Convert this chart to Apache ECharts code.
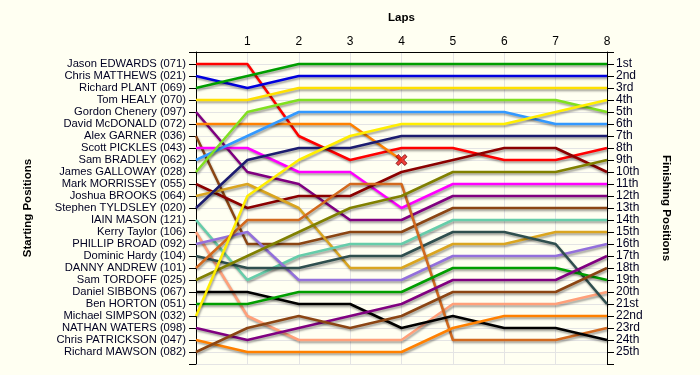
<!DOCTYPE html>
<html>
<head>
<meta charset="utf-8">
<script src="https://cdn.jsdelivr.net/npm/echarts@6/dist/echarts.min.js"></script>
<style>
  html, body { margin: 0; padding: 0; background: #fffff2; }
  #chart { width: 700px; height: 375px; }
</style>
</head>
<body>
<div id="chart"></div>
<script>
// ---- data ----
const laps = [0, 1, 2, 3, 4, 5, 6, 7, 8];
const startingNames = [
  'Jason EDWARDS (071)', 'Chris MATTHEWS (021)', 'Richard PLANT (069)', 'Tom HEALY (070)',
  'Gordon Chenery (097)', 'David McDONALD (072)', 'Alex GARNER (036)', 'Scott PICKLES (043)',
  'Sam BRADLEY (062)', 'James GALLOWAY (028)', 'Mark MORRISSEY (055)', 'Joshua BROOKS (064)',
  'Stephen TYLDSLEY (020)', 'IAIN MASON (121)', 'Kerry Taylor (106)', 'PHILLIP BROAD (092)',
  'Dominic Hardy (104)', 'DANNY ANDREW (101)', 'Sam TORDOFF (025)', 'Daniel SIBBONS (067)',
  'Ben HORTON (051)', 'Michael SIMPSON (032)', 'NATHAN WATERS (098)', 'Chris PATRICKSON (047)',
  'Richard MAWSON (082)'
];
const finishingLabels = [
  '1st', '2nd', '3rd', '4th', '5th', '6th', '7th', '8th', '9th', '10th', '11th', '12th', '13th',
  '14th', '15th', '16th', '17th', '18th', '19th', '20th', '21st', '22nd', '23rd', '24th', '25th'
];

// position per lap (lap 0 .. lap 8)
const jasonEdwards    = [1, 1, 7, 9, 8, 8, 9, 9, 8];
const chrisMatthews   = [2, 3, 2, 2, 2, 2, 2, 2, 2];
const richardPlant    = [3, 2, 1, 1, 1, 1, 1, 1, 1];
const tomHealy        = [4, 4, 3, 3, 3, 3, 3, 3, 3];
const gordonChenery   = [5, 10, 11, 14, 14, 12, 12, 12, 12];
const davidMcDonald   = [6, 6, 6, 6, 9];
const alexGarner      = [7, 16, 16, 15, 15, 13, 13, 13, 13];
const scottPickles    = [8, 8, 10, 10, 13, 11, 11, 11, 11];
const samBradley      = [9, 7, 5, 5, 5, 5, 5, 6, 6];
const jamesGalloway   = [10, 5, 4, 4, 4, 4, 4, 4, 5];
const markMorrissey   = [11, 13, 12, 12, 10, 9, 8, 8, 10];
const joshuaBrooks    = [12, 11, 13, 18, 18, 16, 16, 15, 15];
const stephenTyldsley = [13, 9, 8, 8, 7, 7, 7, 7, 7];
const iainMason       = [14, 19, 17, 16, 16, 14, 14, 14, 14];
const kerryTaylor     = [15, 22, 24, 24, 24, 21, 21, 21, 20];
const phillipBroad    = [16, 15, 19, 19, 19, 17, 17, 17, 16];
const dominicHardy    = [17, 18, 18, 17, 17, 15, 15, 16, 21];
const dannyAndrew     = [18, 14, 14, 11, 11, 24, 24, 24, 23];
const samTordoff      = [19, 17, 15, 13, 12, 10, 10, 10, 9];
const danielSibbons   = [20, 20, 21, 21, 23, 22, 23, 23, 24];
const benHorton       = [21, 21, 20, 20, 20, 18, 18, 18, 19];
const michaelSimpson  = [22, 12, 9, 7, 6, 6, 6, 5, 4];
const nathanWaters    = [23, 24, 23, 22, 21, 19, 19, 19, 17];
const chrisPatrickson = [24, 25, 25, 25, 25, 23, 22, 22, 22];
const richardMawson   = [25, 23, 22, 23, 22, 20, 20, 20, 18];

const driverPositions = [
  jasonEdwards, chrisMatthews, richardPlant, tomHealy, gordonChenery, davidMcDonald,
  alexGarner, scottPickles, samBradley, jamesGalloway, markMorrissey, joshuaBrooks,
  stephenTyldsley, iainMason, kerryTaylor, phillipBroad, dominicHardy, dannyAndrew,
  samTordoff, danielSibbons, benHorton, michaelSimpson, nathanWaters, chrisPatrickson,
  richardMawson
];
const retiredDriverIndex = 5; // David McDONALD

const driverColors = [
  '#ff0000', '#0000dd', '#009e00', '#ffe000', '#800080', '#ff8000', '#8b4513', '#ff00ff',
  '#3399ff', '#80e020', '#8b0000', '#daa520', '#1c1c70', '#66cdaa', '#ffa07a', '#9370db',
  '#2f4f4f', '#d2691e', '#808000', '#000000', '#009e00', '#ffee00', '#800080', '#ff8000',
  '#8b4513'
];

// ---- chart ----
const font = "'Liberation Sans', Arial, sans-serif";
const chart = echarts.init(document.getElementById('chart'), null, { renderer: 'canvas' });

const series = driverPositions.map((arr, i) => ({
  type: 'line',
  name: startingNames[i],
  data: arr.map((p, k) => [laps[k], p]),
  symbol: 'none',
  z: 2,
  lineStyle: {
    color: driverColors[i],
    width: 2.5,
    shadowColor: 'rgba(0,0,0,0.35)',
    shadowBlur: 2,
    shadowOffsetX: 1,
    shadowOffsetY: 2
  },
  itemStyle: { color: driverColors[i] },
  emphasis: { disabled: true }
}));

const retired = driverPositions[retiredDriverIndex];
series.push({
  type: 'scatter',
  z: 5,
  data: [[laps[retired.length - 1], retired[retired.length - 1]]],
  symbol: 'path://M2,0 L5,3 L8,0 L10,2 L7,5 L10,8 L8,10 L5,7 L2,10 L0,8 L3,5 L0,2 Z',
  symbolSize: 11,
  itemStyle: { color: '#ee1111', borderColor: '#700000', borderWidth: 1 }
});

const yCommon = {
  type: 'value',
  inverse: true,
  min: 0,
  max: 26,
  interval: 1,
  nameLocation: 'middle',
  nameTextStyle: { fontFamily: font, fontSize: 11.5, fontWeight: 'bold', color: '#000' },
  axisLine: { show: true, lineStyle: { color: '#000', width: 1 } },
  axisTick: { show: true, length: 7, lineStyle: { color: '#000' } }
};

chart.setOption({
  backgroundColor: '#fffff2',
  animation: false,
  grid: { left: 196, right: 93, top: 52, bottom: 11, containLabel: false },
  xAxis: {
    type: 'value',
    position: 'top',
    min: 0,
    max: 8,
    interval: 1,
    name: 'Laps',
    nameLocation: 'middle',
    nameGap: 28,
    nameTextStyle: { fontFamily: font, fontSize: 11.5, fontWeight: 'bold', color: '#000' },
    axisLine: { show: true, onZero: false, lineStyle: { color: '#000', width: 1 } },
    axisTick: { show: false },
    axisLabel: {
      margin: 4,
      fontFamily: font, fontSize: 12, color: '#000',
      formatter: v => (v === 0 ? '' : String(v))
    },
    splitLine: { show: true, lineStyle: { color: '#e4e4e4', width: 1 } }
  },
  yAxis: [
    Object.assign({}, yCommon, {
      position: 'left',
      name: 'Starting Positions',
      nameGap: 162,
      axisLabel: {
        margin: 10,
        fontFamily: font, fontSize: 11.2, color: '#000022',
        formatter: v => (Number.isInteger(v) && v >= 1 && v <= startingNames.length ? startingNames[v - 1] : '')
      },
      splitLine: { show: true, lineStyle: { color: '#e4e4e4', width: 1 } }
    }),
    Object.assign({}, yCommon, {
      position: 'right',
      name: 'Finishing Positions',
      nameGap: 53,
      nameRotate: -90,
      axisLabel: {
        margin: 9,
        fontFamily: font, fontSize: 12, color: '#000022',
        formatter: v => (Number.isInteger(v) && v >= 1 && v <= finishingLabels.length ? finishingLabels[v - 1] : '')
      },
      splitLine: { show: false }
    })
  ],
  series: series
});
</script>
</body>
</html>
